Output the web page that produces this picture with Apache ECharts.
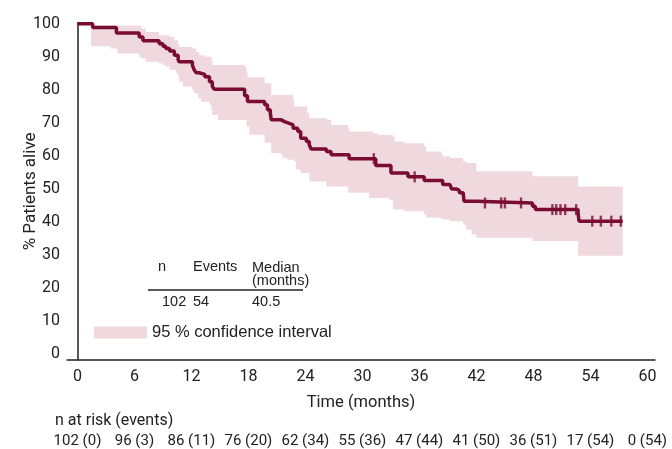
<!DOCTYPE html>
<html>
<head>
<meta charset="utf-8">
<script src="https://cdn.jsdelivr.net/npm/echarts@6/dist/echarts.min.js"></script>
<style>
html,body{margin:0;padding:0;background:#fff;}
#chart{width:672px;height:449px;}
</style>
</head>
<body>
<div id="chart"></div>
<script>
// Kaplan-Meier estimate (months, % alive)
const kmTimes = [0, 1.6, 4.1, 6.5, 6.9, 8.6, 9.0, 9.3, 9.7, 10.2, 10.6, 10.7, 12.1, 12.3, 12.5, 12.8, 13.4, 13.9, 14.2, 14.4, 17.6, 17.9, 19.7, 20.0, 20.3, 20.4, 21.4, 21.8, 22.3, 22.7, 23.2, 23.5, 24.1, 24.4, 24.6, 26.2, 26.7, 28.6, 31.4, 33.0, 34.8, 36.5, 38.45, 39.2, 39.4, 39.9, 40.2, 40.6, 40.7, 42.0, 47.9, 48.2, 52.7, 52.8, 57.4];
const kmSurv  = [100, 98.9, 97.2, 96.0, 94.9, 94.0, 93.2, 92.5, 91.8, 90.5, 89.2, 88.5, 87.5, 86.0, 85.2, 84.7, 84.0, 82.5, 81.0, 80.2, 78.2, 76.5, 75.5, 74.0, 73.0, 71.0, 70.4, 69.9, 69.4, 68.4, 67.4, 65.4, 64.4, 63.4, 62.1, 61.4, 60.4, 59.2, 57.1, 54.9, 53.7, 52.6, 51.4, 50.8, 50.0, 49.6, 48.9, 48.3, 46.3, 45.8, 44.8, 43.8, 42.8, 40.3, 40.3];
// Censored observations (months)
const censorTimes = [31.2, 35.5, 42.9, 44.6, 45.0, 46.7, 50.0, 50.4, 50.85, 51.35, 52.5, 54.2, 55.1, 56.2, 57.2];
// 95 % confidence interval, upper bound
const upperTimes = [0, 1.44, 6.7, 7.2, 8.6, 9.7, 10.2, 10.6, 10.7, 12.1, 12.5, 12.8, 13.5, 14.1, 14.2, 17.6, 17.8, 17.9, 19.7, 20.4, 22.7, 22.8, 24.2, 24.4, 26.3, 26.7, 28.5, 28.6, 31.1, 31.6, 33.2, 33.4, 34.4, 36.5, 36.7, 38.3, 38.45, 39.2, 40.6, 40.9, 42.0, 47.9, 52.7, 57.4];
const upperVals  = [100, 99.5, 98.6, 97.5, 96.5, 96, 95, 94, 93, 92.5, 91.5, 90.5, 90, 89, 87.5, 87, 85.5, 83.8, 82, 78.5, 77, 75, 73, 71.4, 70.9, 69.4, 68.4, 67.4, 66.9, 66.4, 65.9, 64.4, 63.9, 62.9, 61.4, 60.6, 59.9, 59.4, 58.4, 57.9, 55.4, 53.9, 50.8, 50.8];
// 95 % confidence interval, lower bound
const lowerTimes = [0, 1.44, 3.5, 4.2, 6.5, 6.7, 7.2, 8.6, 9.0, 9.3, 9.7, 10.4, 10.6, 10.7, 11.1, 12.1, 12.3, 12.7, 13.0, 13.9, 14.1, 14.2, 14.8, 17.8, 18.1, 19.7, 20.4, 21.4, 21.6, 22.1, 22.8, 23.0, 23.5, 24.4, 26.2, 28.5, 30.7, 32.8, 33.2, 34.4, 36.5, 36.7, 38.3, 39.2, 40.6, 40.9, 41.5, 42.0, 47.9, 52.7, 57.4];
const lowerVals  = [100, 93.2, 92.5, 91, 90, 89.5, 88.5, 88, 87.5, 87, 86, 85, 84, 82.5, 81, 80, 79, 77.5, 76.4, 75.5, 74, 72.4, 70.9, 68.9, 66.4, 64, 60.9, 60.4, 59.4, 58.9, 58.4, 55.9, 54.9, 52.3, 50.8, 48.9, 47.3, 46.8, 43.8, 43.3, 42.3, 41.3, 40.8, 40.3, 39.3, 37.8, 36.3, 35.3, 34.3, 29.8, 29.8];
// Axis ticks and risk table
const xTicks = [0, 6, 12, 18, 24, 30, 36, 42, 48, 54, 60];
const yTicks = [0, 10, 20, 30, 40, 50, 60, 70, 80, 90, 100];
const riskLabels = ['102 (0)', '96 (3)', '86 (11)', '76 (20)', '62 (34)', '55 (36)', '47 (44)', '41 (50)', '36 (51)', '17 (54)', '0 (54)'];

const LINE = '#7a0b33';
const BAND = '#f0d9de';
const TXT = '#222';

function stepAt(ts, vs, t) {
  let v = vs[0];
  for (let i = 0; i < ts.length; i++) if (ts[i] <= t) v = vs[i];
  return v;
}
function stepPoints(ts, vs) {
  const pts = [[ts[0], vs[0]]];
  for (let i = 1; i < ts.length; i++) {
    pts.push([ts[i], vs[i - 1]]);
    pts.push([ts[i], vs[i]]);
  }
  return pts;
}
const bandPoly = stepPoints(upperTimes, upperVals).concat(stepPoints(lowerTimes, lowerVals).reverse());
const kmData = kmTimes.map((t, i) => [t, kmSurv[i]]);
const censorData = censorTimes.map(t => [t, stepAt(kmTimes, kmSurv, t)]);

const chart = echarts.init(document.getElementById('chart'), null, {renderer: 'canvas'});
const tableFont = {fontFamily: 'Liberation Sans', fontSize: 14.5, fill: TXT, verticalAlign: 'middle'};
chart.setOption({
  animation: false,
  grid: {left: 67, right: 17, top: 22.8, bottom: 88},
  xAxis: [{
    type: 'value', min: -1.1, max: 60.8,
    axisLine: {show: true, onZero: false, lineStyle: {color: TXT, width: 1.5}},
    axisTick: {show: false}, splitLine: {show: false},
    axisLabel: {customValues: xTicks, margin: 9, fontFamily: 'Roboto', fontSize: 16, color: TXT},
    name: 'Time (months)', nameLocation: 'middle', nameGap: 34, nameMoveOverlap: false,
    nameTextStyle: {fontFamily: 'Roboto', fontSize: 16.5, color: TXT}
  }, {
    type: 'value', min: -1.1, max: 60.8, position: 'bottom',
    axisLine: {show: false}, axisTick: {show: false}, splitLine: {show: false},
    axisLabel: {customValues: xTicks, margin: 74, fontFamily: 'Roboto', fontSize: 15, color: TXT,
      formatter: v => { const i = xTicks.indexOf(v); return i >= 0 ? riskLabels[i] : ''; }}
  }],
  yAxis: {
    type: 'value', min: -1.7, max: 100.3,
    axisLine: {show: true, lineStyle: {color: TXT, width: 1.5}},
    axisTick: {show: false}, splitLine: {show: false},
    axisLabel: {customValues: yTicks, margin: 7, fontFamily: 'Roboto', fontSize: 16, color: TXT},
    name: '% Patients alive', nameLocation: 'middle', nameGap: 28, nameMoveOverlap: false,
    nameTextStyle: {fontFamily: 'Roboto', fontSize: 17, color: TXT}
  },
  legend: {
    data: [{name: '95 % confidence interval', icon: 'rect', itemStyle: {color: BAND}}],
    left: 94, top: 324, padding: 0, itemWidth: 53, itemHeight: 12, selectedMode: false,
    textStyle: {fontFamily: 'Liberation Sans', fontSize: 16.5, color: TXT}
  },
  series: [{
    type: 'custom', name: '95 % confidence interval',
    data: [[0, 0]], silent: true, z: 1,
    itemStyle: {color: BAND},
    renderItem: (params, api) => ({
      type: 'polygon',
      shape: {points: bandPoly.map(p => api.coord(p))},
      style: {fill: BAND}
    })
  }, {
    type: 'line', name: 'KM', data: kmData, step: 'end', symbol: 'none', clip: false, z: 3,
    lineStyle: {color: LINE, width: 3.5}, itemStyle: {color: LINE}
  }, {
    type: 'scatter', name: 'Censored', data: censorData, symbol: 'rect', symbolSize: [2.4, 11], z: 4,
    itemStyle: {color: LINE}
  }],
  graphic: [
    {type: 'text', x: 158, y: 267, style: Object.assign({text: 'n'}, tableFont)},
    {type: 'text', x: 193, y: 267, style: Object.assign({text: 'Events'}, tableFont)},
    {type: 'text', x: 252, y: 268, style: Object.assign({text: 'Median'}, tableFont)},
    {type: 'text', x: 252, y: 280.5, style: Object.assign({text: '(months)'}, tableFont)},
    {type: 'line', shape: {x1: 148, y1: 290, x2: 303, y2: 290}, style: {stroke: TXT, lineWidth: 1.5}},
    {type: 'text', x: 162, y: 302, style: Object.assign({text: '102'}, tableFont)},
    {type: 'text', x: 193, y: 302, style: Object.assign({text: '54'}, tableFont)},
    {type: 'text', x: 252, y: 302, style: Object.assign({text: '40.5'}, tableFont)},
    {type: 'text', x: 55, y: 421, style: {text: 'n at risk (events)', fontFamily: 'Roboto', fontSize: 16, fill: TXT, verticalAlign: 'middle'}}
  ]
});
</script>
</body>
</html>
